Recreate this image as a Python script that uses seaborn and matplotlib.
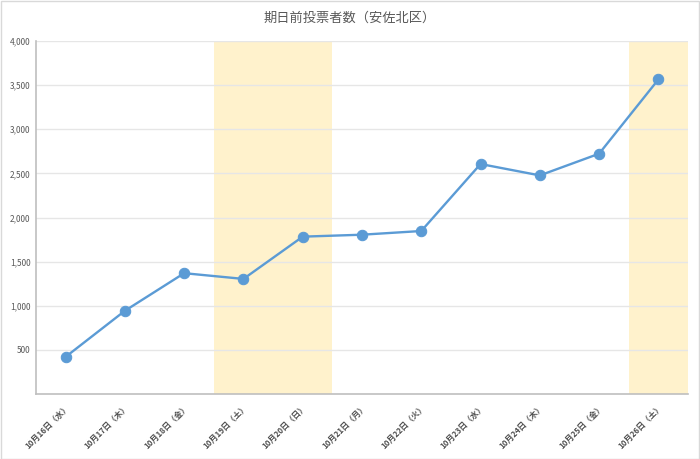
import matplotlib
matplotlib.use("Agg")
import matplotlib.pyplot as plt
import matplotlib.patches as mpatches
import seaborn as sns
import pandas as pd

dates = ["10月16日（水）", "10月17日（木）", "10月18日（金）", "10月19日（土）",
         "10月20日（日）", "10月21日（月）", "10月22日（火）", "10月23日（水）",
         "10月24日（木）", "10月25日（金）", "10月26日（土）"]
voters = [421, 943, 1369, 1304, 1783, 1805, 1847, 2606, 2477, 2723, 3564]
weekend_spans = [(3, 4), (10, 10)]
yticks = [500, 1000, 1500, 2000, 2500, 3000, 3500, 4000]
title = "期日前投票者数（安佐北区）"

sns.set_theme(style="white")
plt.rcParams['font.family'] = ['Noto Sans CJK JP', 'DejaVu Sans']

df = pd.DataFrame({"idx": range(len(dates)), "date": dates, "voters": voters})

fig = plt.figure(figsize=(7.0, 4.59), dpi=100)
ax = fig.add_axes([36/700, 1-394/459, (688-36)/700, (394-41)/459])

for a, b in weekend_spans:
    ax.axvspan(a - 0.5, b + 0.5, color="#FFF2CC", zorder=0, lw=0)

for y in yticks:
    ax.axhline(y, color="#E6E6E6", lw=1, zorder=0.5)

sns.lineplot(data=df, x="idx", y="voters", ax=ax, color="#5B9BD5", lw=1.7,
             marker="o", markersize=7.5, markeredgecolor="#5B9BD5", zorder=3)

ax.set_xlim(-0.5, len(dates) - 0.5)
ax.set_ylim(0, 4000)
ax.set_yticks(yticks)
ax.set_yticklabels([f"{v:,}" for v in yticks], fontsize=6, color="#595959")
ax.set_xticks(range(len(dates)))
ax.set_xticklabels(dates, rotation=45, ha="right", rotation_mode="anchor",
                   fontsize=5.8, color="#505050", fontweight="bold")
ax.set_xlabel("")
ax.set_ylabel("")
ax.tick_params(axis="both", length=0, pad=4)
ax.tick_params(axis="x", pad=6)

for s in ["top", "right"]:
    ax.spines[s].set_visible(False)
for s in ["left", "bottom"]:
    ax.spines[s].set_color("#BFBFBF")
    ax.spines[s].set_linewidth(1.2)

fig.text(0.5, 1-18/459, title, ha="center", va="center", fontsize=9.5, color="#595959")

fig.patches.append(mpatches.Rectangle((0.001, 0.001), 0.997, 0.997, transform=fig.transFigure,
                                      fill=False, edgecolor="#D9D9D9", lw=1))

fig.savefig("out.png", dpi=100)
